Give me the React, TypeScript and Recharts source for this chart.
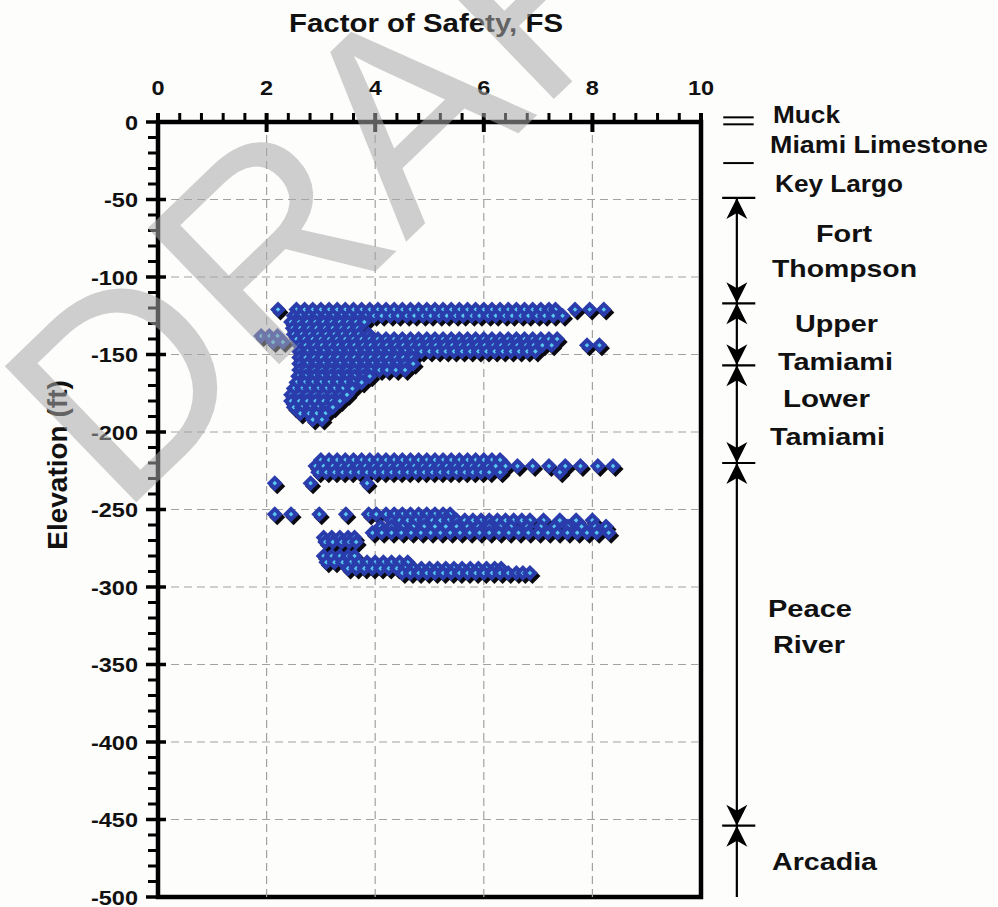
import React from "react";
import {
  ReferenceArea,
  ReferenceLine,
  Scatter,
  ScatterChart,
  XAxis,
  YAxis,
} from "recharts";

// [elevation (ft), factor-of-safety values read at that elevation]
type Row = [number, number[]];

const X_TICKS = [0, 2, 4, 6, 8, 10];
const Y_TICKS = [0, -50, -100, -150, -200, -250, -300, -350, -400, -450, -500];

// Fort Thompson base / Upper + Lower Tamiami
const TAMIAMI_ROWS: Row[] = [
  [-121, [2.21, 2.55, 2.7, 2.85, 3.0, 3.15, 3.3, 3.45, 3.6, 3.75, 3.9, 4.05, 4.2, 4.35, 4.5, 4.65, 4.8, 4.95, 5.1, 5.25, 5.4, 5.55, 5.7, 5.85, 6.0, 6.15, 6.3, 6.45, 6.6, 6.75, 6.9, 7.05, 7.2, 7.32, 7.68, 7.95, 8.21]],
  [-125, [2.5, 2.62, 2.78, 2.92, 3.08, 3.22, 3.38, 3.52, 3.68, 3.82, 3.98, 4.12, 4.28, 4.42, 4.58, 4.72, 4.88, 5.02, 5.18, 5.32, 5.48, 5.62, 5.78, 5.92, 6.08, 6.22, 6.38, 6.52, 6.68, 6.82, 6.98, 7.12, 7.28, 7.45]],
  [-129, [2.45, 2.6, 2.75, 2.9, 3.05, 3.2, 3.35, 3.5, 3.65, 3.8]],
  [-133, [2.48, 2.62, 2.78, 2.92, 3.08, 3.22, 3.38, 3.52, 3.68]],
  [-137, [2.5, 2.65, 2.8, 2.95, 3.1, 3.25, 3.4, 3.55, 3.7, 3.88]],
  [-138, [1.9, 2.05, 2.2]],
  [-142, [2.12, 2.3]],
  [-140, [2.55, 2.7, 2.85, 3.0, 3.15, 3.3, 3.45, 3.6, 3.75, 3.9, 4.05, 4.2, 4.35, 4.5, 4.65, 4.8, 4.95, 5.1, 5.25, 5.4, 5.55, 5.7, 5.85, 6.0, 6.15, 6.3, 6.45, 6.6, 6.75, 6.9, 7.05, 7.2, 7.35]],
  [-144, [2.6, 2.72, 2.88, 3.02, 3.18, 3.32, 3.48, 3.62, 3.78, 3.92, 4.08, 4.22, 4.38, 4.52, 4.68, 4.82, 4.98, 5.12, 5.28, 5.42, 5.58, 5.72, 5.88, 6.02, 6.18, 6.32, 6.48, 6.62, 6.78, 6.92, 7.08, 7.25, 7.9, 8.13]],
  [-148, [2.6, 2.75, 2.9, 3.05, 3.2, 3.35, 3.5, 3.65, 3.8, 3.95, 4.1, 4.25, 4.4, 4.55, 4.7, 4.85, 5.0, 5.15, 5.3, 5.45, 5.6, 5.75, 5.9, 6.05, 6.2, 6.35, 6.5, 6.65, 6.8, 6.95]],
  [-152, [2.6, 2.72, 2.88, 3.02, 3.18, 3.32, 3.48, 3.62, 3.78, 3.92, 4.08, 4.22, 4.38, 4.52, 4.68]],
  [-156, [2.6, 2.75, 2.9, 3.05, 3.2, 3.35, 3.5, 3.65, 3.8, 3.95, 4.1, 4.25, 4.4, 4.55, 4.7]],
  [-160, [2.6, 2.72, 2.88, 3.02, 3.18, 3.32, 3.48, 3.62, 3.78, 3.92, 4.08, 4.22, 4.38, 4.55]],
  [-164, [2.58, 2.72, 2.88, 3.02, 3.18, 3.32, 3.48, 3.62, 3.78, 3.9]],
  [-168, [2.55, 2.7, 2.85, 3.0, 3.15, 3.3, 3.45, 3.6, 3.75]],
  [-172, [2.5, 2.65, 2.8, 2.95, 3.1, 3.25, 3.4, 3.58]],
  [-176, [2.45, 2.6, 2.75, 2.9, 3.05, 3.2, 3.35, 3.48]],
  [-180, [2.45, 2.6, 2.75, 2.9, 3.05, 3.2, 3.35]],
  [-184, [2.5, 2.65, 2.8, 2.95, 3.1, 3.22]],
  [-188, [2.62, 2.78, 2.92, 3.08]],
  [-192, [2.85, 3.02]],
];

// Peace River, upper band
const PEACE_UPPER_ROWS: Row[] = [
  [-218, [3.0, 3.15, 3.3, 3.45, 3.6, 3.75, 3.9, 4.05, 4.2, 4.35, 4.5, 4.65, 4.8, 4.95, 5.1, 5.25, 5.4, 5.55, 5.7, 5.85, 6.0, 6.15, 6.3]],
  [-222, [2.9, 3.05, 3.22, 3.38, 3.52, 3.68, 3.82, 3.98, 4.12, 4.28, 4.42, 4.58, 4.72, 4.88, 5.02, 5.18, 5.32, 5.48, 5.62, 5.78, 5.92, 6.08, 6.22, 6.4, 6.62, 6.9, 7.2, 7.5, 7.78, 8.1, 8.38]],
  [-226, [2.95, 3.1, 3.25, 3.4, 3.55, 3.7, 3.85, 4.0, 4.15, 4.3, 4.45, 4.6, 4.75, 4.9, 5.05, 5.2, 5.35, 5.5, 5.65, 5.8, 5.95, 6.1, 6.3, 7.4]],
  [-233, [2.15, 2.81, 3.85]],
];

// Peace River, middle band
const PEACE_MIDDLE_ROWS: Row[] = [
  [-253, [2.15, 2.45, 2.97, 3.46, 3.88, 4.02, 4.2, 4.35, 4.5, 4.65, 4.8, 4.95, 5.1, 5.25, 5.38]],
  [-257, [4.3, 4.45, 4.6, 4.75, 4.9, 5.05, 5.2, 5.35, 5.5, 5.65, 5.8, 5.95, 6.1, 6.25, 6.4, 6.55, 6.7, 6.85, 7.1, 7.4, 7.7, 8.0]],
  [-261, [4.1, 4.3, 4.5, 4.7, 4.9, 5.1, 5.3, 5.5, 5.7, 5.9, 6.1, 6.3, 6.5, 6.8, 7.05, 7.3, 7.55, 7.8, 8.05, 8.25]],
  [-265, [3.95, 4.12, 4.3, 4.48, 4.66, 4.84, 5.02, 5.2, 5.38, 5.56, 5.74, 5.92, 6.1, 6.28, 6.46, 6.64, 6.82, 7.0, 7.18, 7.36, 7.54, 7.72, 7.9, 8.08, 8.3]],
  [-268, [3.05, 3.2, 3.35, 3.5, 3.62]],
  [-271, [3.08, 3.22, 3.38, 3.52, 3.65]],
];

// Peace River, lower band
const PEACE_LOWER_ROWS: Row[] = [
  [-280, [3.05, 3.2, 3.35, 3.5, 3.62]],
  [-284, [3.1, 3.25, 3.4, 3.55, 3.7, 3.85, 4.0, 4.15, 4.3, 4.45, 4.6]],
  [-288, [3.5, 3.65, 3.8, 3.95, 4.1, 4.25, 4.4, 4.55, 4.7, 4.85, 5.0, 5.15, 5.3, 5.45, 5.6, 5.75, 5.9, 6.05, 6.2, 6.32]],
  [-291, [4.5, 4.65, 4.8, 4.95, 5.1, 5.25, 5.4, 5.55, 5.7, 5.85, 6.0, 6.15, 6.3, 6.45, 6.6, 6.72, 6.85]],
];

// geologic column on the right (elevations, ft)
const STRATA_SEPARATORS = [3, -1.5, -26.5];
const STRATA_BOUNDARIES = [-49, -117, -157, -220, -454];
const STRATA_BASE = -500;

const FONT = '"Liberation Sans", Arial, Helvetica, sans-serif';
const W = 998;
const H = 907;
const PLOT_LEFT = 158;
const PLOT_TOP = 122;
const PLOT_RIGHT = 701;
const PLOT_BOTTOM = 897;

const BLUE = "#2a3cab";
const CYAN = "#58c8f0";

// column drawn just right of the frame, in FS units
const COL_X0 = 10.41;
const COL_X1 = 10.97;
const COL_ARROW = 10.66;

const STRATA_TEXT: Array<{ t: string; x: number; y: number; w: number }> = [
  { t: "Muck", x: 773, y: 123, w: 67 },
  { t: "Miami Limestone", x: 770, y: 153, w: 218 },
  { t: "Key Largo", x: 775, y: 192, w: 128 },
  { t: "Fort", x: 816, y: 242, w: 56 },
  { t: "Thompson", x: 772, y: 277, w: 145 },
  { t: "Upper", x: 795, y: 332, w: 83 },
  { t: "Tamiami", x: 778, y: 370, w: 115 },
  { t: "Lower", x: 783, y: 407, w: 87 },
  { t: "Tamiami", x: 770, y: 445, w: 115 },
  { t: "Peace", x: 768, y: 617, w: 84 },
  { t: "River", x: 773, y: 653, w: 72 },
  { t: "Arcadia", x: 772, y: 870, w: 105 },
];

const X_MINOR = Array.from({ length: 26 }, (_, i) => Math.round(i * 4) / 10);
const Y_MINOR = Array.from({ length: 51 }, (_, i) => -i * 10);

const toPoints = (rows: Row[]) =>
  rows.flatMap(([elev, list]) => list.map((fs) => ({ fs, elev })));

const points = [
  ...toPoints(TAMIAMI_ROWS),
  ...toPoints(PEACE_UPPER_ROWS),
  ...toPoints(PEACE_MIDDLE_ROWS),
  ...toPoints(PEACE_LOWER_ROWS),
];

const diamond = (cx: number, cy: number, r: number) =>
  `M${cx},${cy - r}L${cx + r},${cy}L${cx},${cy + r}L${cx - r},${cy}Z`;

function ShadowMark({ cx, cy }: any) {
  return <path d={diamond(cx + 2.5, cy + 3, 8)} fill="#0a0a10" />;
}

function DiamondMark({ cx, cy }: any) {
  return (
    <g>
      <path d={diamond(cx, cy, 8)} fill={BLUE} />
      <path d={diamond(cx, cy, 2.3)} fill={CYAN} />
    </g>
  );
}

const isMajorX = (v: number) => Math.abs(v / 2 - Math.round(v / 2)) < 1e-6;

function XTick({ x, payload }: any) {
  const v = payload.value;
  const major = isMajorX(v);
  return (
    <g>
      <line
        x1={x}
        x2={x}
        y1={PLOT_TOP - 9}
        y2={PLOT_TOP + (major ? 10 : 0)}
        stroke="#000"
        strokeWidth={major ? 4 : 3}
      />
      {major && (
        <text
          transform={`translate(${x},95) scale(1.12,1)`}
          textAnchor="middle"
          fontFamily={FONT}
          fontWeight="bold"
          fontSize={21}
          fill="#111"
        >
          {Math.round(v)}
        </text>
      )}
    </g>
  );
}

function YTick({ y, payload }: any) {
  const v = payload.value;
  const major = Math.abs(v % 50) < 1e-6;
  return (
    <g>
      <line
        x1={PLOT_LEFT - (major ? 12 : 10)}
        x2={PLOT_LEFT + (major ? 8 : 0)}
        y1={y}
        y2={y}
        stroke="#000"
        strokeWidth={major ? 3.5 : 3}
      />
      {major && (
        <text
          transform={`translate(138,${y + 7.5}) scale(1.12,1)`}
          textAnchor="end"
          fontFamily={FONT}
          fontWeight="bold"
          fontSize={21}
          fill="#111"
        >
          {v === 0 ? "0" : v}
        </text>
      )}
    </g>
  );
}

const arrowUp = (x: number, t: number) =>
  `M${x},${t}L${x - 10.5},${t + 21}L${x},${t + 15}L${x + 10.5},${t + 21}Z`;
const arrowDown = (x: number, t: number) =>
  `M${x},${t}L${x - 10.5},${t - 21}L${x},${t - 15}L${x + 10.5},${t - 21}Z`;

function ArrowSpan({ x1, y1, y2, tail }: any) {
  const top = Math.min(y1, y2);
  const bottom = Math.max(y1, y2);
  return (
    <g>
      <line x1={x1} x2={x1} y1={top} y2={bottom} stroke="#000" strokeWidth={2.2} />
      <path d={arrowUp(x1, top)} fill="#000" />
      {!tail && <path d={arrowDown(x1, bottom)} fill="#000" />}
    </g>
  );
}

export default function App() {
  const spans = STRATA_BOUNDARIES.map((top, i) => [
    top,
    i < STRATA_BOUNDARIES.length - 1 ? STRATA_BOUNDARIES[i + 1] : STRATA_BASE,
  ]);

  return (
    <div
      style={{
        position: "absolute",
        left: 0,
        top: 0,
        width: W,
        height: H,
        background: "#fdfdfc",
        overflow: "hidden",
      }}
    >
      <ScatterChart
        width={W}
        height={H}
        margin={{
          top: PLOT_TOP - 30,
          left: PLOT_LEFT - 40,
          right: W - PLOT_RIGHT,
          bottom: H - PLOT_BOTTOM,
        }}
      >
        <XAxis
          type="number"
          dataKey="fs"
          orientation="top"
          domain={[0, 10]}
          ticks={X_MINOR}
          interval={0}
          height={30}
          tickSize={0}
          tickMargin={0}
          axisLine={false}
          tickLine={false}
          tick={<XTick />}
          allowDataOverflow
        />
        <YAxis
          type="number"
          dataKey="elev"
          domain={[-500, 0]}
          ticks={Y_MINOR}
          interval={0}
          width={40}
          tickSize={0}
          tickMargin={0}
          axisLine={false}
          tickLine={false}
          tick={<YTick />}
          allowDataOverflow
        />

        {X_TICKS.filter((v) => v > 0 && v < 10).map((v) => (
          <ReferenceLine key={`gx${v}`} x={v} stroke="#a2a2a2" strokeWidth={1.2} strokeDasharray="8 5" />
        ))}
        {Y_TICKS.filter((v) => v < 0 && v > -500).map((v) => (
          <ReferenceLine key={`gy${v}`} y={v} stroke="#a2a2a2" strokeWidth={1.2} strokeDasharray="8 5" />
        ))}

        <ReferenceArea
          x1={0}
          x2={10}
          y1={-500}
          y2={0}
          fill="none"
          stroke="#000"
          strokeWidth={4.5}
          ifOverflow="visible"
        />

        {STRATA_SEPARATORS.map((e) => (
          <ReferenceLine
            key={`sep${e}`}
            segment={[{ x: COL_X0, y: e }, { x: COL_X1, y: e }]}
            stroke="#000"
            strokeWidth={2}
            ifOverflow="visible"
          />
        ))}
        {STRATA_BOUNDARIES.map((e) => (
          <ReferenceLine
            key={`bd${e}`}
            segment={[{ x: COL_X0 - 0.02, y: e }, { x: COL_X1 + 0.03, y: e }]}
            stroke="#000"
            strokeWidth={2.2}
            ifOverflow="visible"
          />
        ))}
        {spans.map(([top, bottom], i) => (
          <ReferenceLine
            key={`sp${top}`}
            segment={[{ x: COL_ARROW, y: top }, { x: COL_ARROW, y: bottom }]}
            ifOverflow="visible"
            shape={(p: any) => <ArrowSpan {...p} tail={i === spans.length - 1} />}
          />
        ))}

        <Scatter data={points} shape={(p: any) => <ShadowMark {...p} />} isAnimationActive={false} />
        <Scatter data={points} shape={(p: any) => <DiamondMark {...p} />} isAnimationActive={false} />
      </ScatterChart>

      <svg
        width={W}
        height={H}
        style={{ position: "absolute", left: 0, top: 0, pointerEvents: "none" }}
      >
        <text
          x={289}
          y={32}
          textLength={274}
          lengthAdjust="spacingAndGlyphs"
          fontFamily={FONT}
          fontWeight="bold"
          fontSize={26}
          fill="#111"
        >
          Factor of Safety, FS
        </text>
        <text
          transform="translate(67,465) rotate(-90)"
          textAnchor="middle"
          fontFamily={FONT}
          fontWeight="bold"
          fontSize={28}
          fill="#111"
        >
          Elevation (ft)
        </text>
        {STRATA_TEXT.map((s, i) => (
          <text
            key={i}
            x={s.x}
            y={s.y}
            textLength={s.w}
            lengthAdjust="spacingAndGlyphs"
            fontFamily={FONT}
            fontWeight="bold"
            fontSize={24}
            fill="#111"
          >
            {s.t}
          </text>
        ))}
        <text
          transform="translate(120,518) rotate(-44)"
          fontFamily={FONT}
          fontSize={275}
          fill="#a8a8a8"
          fillOpacity={0.55}
        >
          DRAFT
        </text>
      </svg>
    </div>
  );
}
